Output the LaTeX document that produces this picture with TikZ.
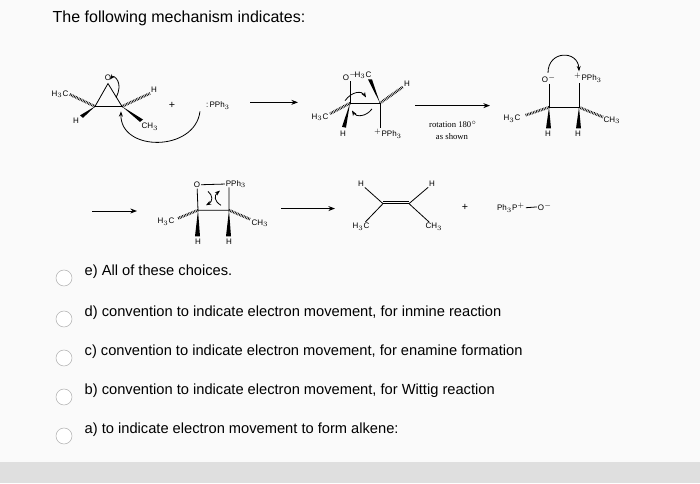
\documentclass[tikz,border=0pt]{standalone}
\usepackage{fontspec}
\setmainfont{Liberation Sans}
\newfontfamily\serifchem{Liberation Serif}
\usetikzlibrary{arrows.meta}
\begin{document}
\begin{tikzpicture}[x=0.75pt,y=-0.75pt,
  lab/.style={font=\fontsize{6}{7}\selectfont,inner sep=0.5pt},
  bnd/.style={line width=0.6pt},
  rxn/.style={line width=0.7pt,-{Stealth[length=5pt]}},
  curv/.style={line width=0.6pt,-{Stealth[length=4pt]}},
  hashb/.style={line width=2pt,dash pattern=on 0.5pt off 0.7pt},
  ans/.style={font=\fontsize{11}{13}\selectfont,anchor=west},
  radio/.style={circle,draw=gray!60,fill=white,minimum size=12pt,inner sep=0pt}]
\fill[gray!4] (0,0) rectangle (700,483);
\fill[gray!25] (0,462) rectangle (700,483);
\useasboundingbox (0,0) rectangle (700,483);
\node[anchor=west,font=\fontsize{12}{14}\selectfont] (title) at (48,18) {The following mechanism indicates:};
\begin{scope}[yshift=-6.9pt]
\begin{scope}[yscale=0.817]
% epoxide
\coordinate (eO) at (108,91); \coordinate (eL) at (95,119); \coordinate (eR) at (122,119);
\node[lab] (o1) at (108,84) {O};
\draw[bnd] (eL)--(eO)--(eR)--(eL);
\node[lab] (h3c1) at (60,104) {H$_3$C};
\draw[hashb] (eL)--(h3c1.east);
\fill (eL) -- (80,130) -- (83,133) -- cycle; \node[lab] (h1) at (76,136) {H};
\draw[hashb] (eR)--(150,103); \node[lab] (h2) at (154,99) {H};
\fill (eR) -- (143,135) -- (140,138) -- cycle; \node[lab] (ch31) at (150,144) {CH$_3$};
\draw[curv] (116,108) .. controls (124,90) and (114,80) .. (110,86);
\node[lab,font=\fontsize{8}{9}\selectfont] (p1) at (172,118) {+};
\node[lab] (pph1) at (218,118) {:\,PPh$_3$};
\draw[curv] (200,125) .. controls (195,175) and (120,175) .. (121,125);
\draw[rxn] (250,114) -- (298,114);
% intermediate
\coordinate (iL) at (350,115); \coordinate (iR) at (380,115);
\node[lab] (o2) at (350,82) {O$^{-}$};
\node[lab] (h3c2) at (363,81) {H$_3$C};
\draw[bnd] (o2)--(iL)--(iR)--(380,145);
\fill (iR)--(368,86)--(372,86)--cycle;
\draw[hashb] (iR)--(403,95); \node[lab] (h3) at (407,91) {H};
\draw[hashb] (iL)--(330,128); \node[lab] (h3c3) at (320,132) {H$_3$C};
\fill (iL)--(342,144)--(346,145)--cycle; \node[lab] (h4) at (343,152) {H};
\node[lab] (pph2) at (388,152) {$^+$PPh$_3$};
\draw[curv] (345,112) .. controls (352,100) and (362,100) .. (366,108);
\draw[curv] (372,122) .. controls (366,132) and (356,132) .. (352,124);
\draw[rxn] (415,118) -- (490,118);
\node[lab,font=\serifchem\fontsize{6.5}{8}\selectfont] (rot) at (453,141) {rotation 180$^{\circ}$};
\node[lab,font=\serifchem\fontsize{6.5}{8}\selectfont] (asshown) at (452,156) {as shown};
% product of rotation
\coordinate (rL) at (549,120); \coordinate (rR) at (579,120);
\node[lab] (o3) at (549,85) {O$^{-}$};
\node[lab] (pp3) at (588,84) {$^+$PPh$_3$};
\draw[bnd] (o3)--(rL)--(rR)--(579,90);
\draw[hashb] (rL)--(525,130); \node[lab] (h3c4) at (512,134) {H$_3$C};
\draw[hashb] (rR)--(603,132); \node[lab] (ch34) at (612,136) {CH$_3$};
\fill (rL)--(546,146)--(551,146)--cycle; \node[lab] (h5) at (548,152) {H};
\fill (rR)--(576,146)--(581,146)--cycle; \node[lab] (h6) at (578,152) {H};
\draw[curv] (548,78) .. controls (548,50) and (578,50) .. (579,76);
% row 2
\draw[rxn] (92,247) -- (137,247);
\coordinate (qL) at (198,246); \coordinate (qR) at (229,246);
\node[lab] (o4) at (197,215) {O};
\node[lab] (pp4) at (236,214) {PPh$_3$};
\draw[bnd] (o4)--(pp4.west);
\draw[bnd] (o4)--(qL)--(qR)--(229,218);
\draw[hashb] (qL)--(178,256); \node[lab] (h3c5) at (166,260) {H$_3$C};
\draw[hashb] (qR)--(250,257); \node[lab] (ch35) at (260,262) {CH$_3$};
\fill (qL)--(195,278)--(200,278)--cycle; \node[lab] (h7) at (198,285) {H};
\fill (qR)--(226,278)--(231,278)--cycle; \node[lab] (h8) at (229,285) {H};
\draw[curv] (208,223) .. controls (213,228) and (213,235) .. (206,240);
\draw[curv] (221,240) .. controls (214,235) and (214,228) .. (220,222);
\draw[rxn] (281,244) -- (335,244);
\coordinate (aL) at (383,238); \coordinate (aR) at (409,238);
\draw[bnd] (aL)--(aR); \draw[bnd] ([yshift=2pt]aL)--([yshift=2pt]aR);
\node[lab] (h9) at (361,214) {H}; \node[lab] (h10) at (432,214) {H};
\node[lab] (h3c6) at (361,266) {H$_3$C}; \node[lab] (ch36) at (434,266) {CH$_3$};
\draw[bnd] (aL)--(h9); \draw[bnd] (aL)--(h3c6); \draw[bnd] (aR)--(h10); \draw[bnd] (aR)--(ch36);
\node[lab,font=\fontsize{8}{9}\selectfont] (p2) at (465,243) {+};
\node[lab] (pho) at (511,243) {Ph$_3$P$^{+}$};
\node[lab] (om) at (545,242) {O$^{-}$};
\draw[bnd] (pho.east)--(om.west);
\end{scope}
\end{scope}
% answers
\foreach \y/\t in {272/{e) All of these choices.},313/{d) convention to indicate electron movement, for inmine reaction},352/{c) convention to indicate electron movement, for enamine formation},391/{b) convention to indicate electron movement, for Wittig reaction},430/{a) to indicate electron movement to form alkene:}}{
  \node[radio] at (64,\y+6) {};
  \node[ans] at (80,\y) {\t};
}
\end{tikzpicture}
\end{document}
